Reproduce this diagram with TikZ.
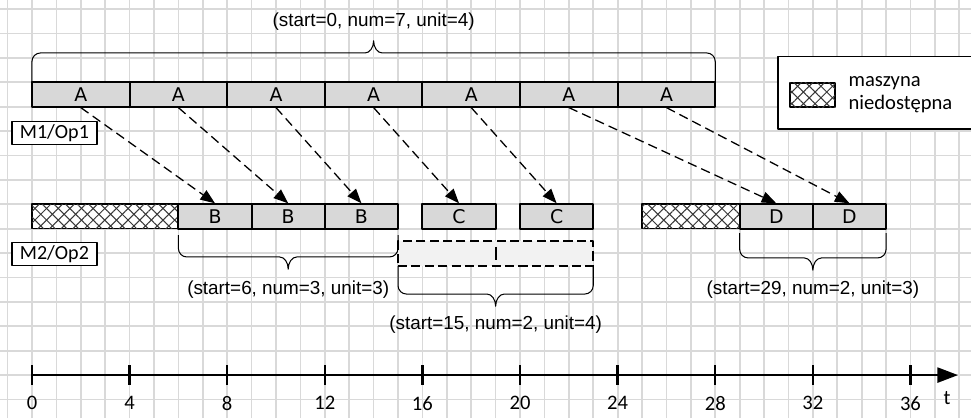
\documentclass[tikz,border=0pt]{standalone}
\usepackage{fontspec}
\setmainfont{Carlito}
\newfontfamily\parfont{Liberation Sans}
\newfontfamily\jobfont{DejaVu Sans}
\usetikzlibrary{arrows.meta,patterns.meta}
\definecolor{gridgray}{RGB}{217,217,217}
\definecolor{jobgray}{RGB}{216,216,216}
\definecolor{slotgray}{RGB}{242,242,242}
\definecolor{hatchgray}{RGB}{55,55,55}
% curly brace: #1,#2 x of the arms, #3 y where the arms end, #4 y of the line, #5 = 1 tip up, -1 tip down
\newcommand{\curly}[5]{%
  \draw[brace] (#1,#3) -- (#1,{#4-0.35*(#5)})
    arc[start angle=180, end angle={180-90*(#5)}, radius=.35]
    -- ({(#1+#2)/2-.35},#4)
    arc[start angle={180+90*(#5)}, end angle={180+180*(#5)}, x radius=.35, y radius=.5]
    arc[start angle=180, end angle={180+90*(#5)}, x radius=.35, y radius=.5]
    -- ({#2-.35},#4)
    arc[start angle={180-90*(#5)}, end angle={180-180*(#5)}, radius=.35]
    -- (#2,#3);
}
\begin{document}
\begin{tikzpicture}[scale=.5, line join=round,
    gridline/.style={gridgray, line width=1pt},
    job/.style={draw, line width=1.1pt, fill=jobgray, minimum height=.5cm, inner sep=0pt,
      font=\jobfont\fontsize{11}{13}\selectfont},
    hatched/.style={draw, line width=.9pt, fill=white, inner sep=0pt,
      postaction={pattern={Lines[angle=45,distance=4.8pt,line width=.6pt]}, pattern color=hatchgray},
      postaction={pattern={Lines[angle=-45,distance=4.8pt,line width=.6pt]}, pattern color=hatchgray}},
    slot/.style={draw, dash pattern=on 5.3pt off 2.5pt, line width=1.1pt, fill=slotgray, inner sep=0pt},
    dep/.style={dash pattern=on 5.5pt off 3pt, line width=.75pt, -{Triangle[length=8.5pt,width=6.5pt]}},
    tag/.style={draw, line width=.8pt, fill=white, minimum width=1.74cm, minimum height=.48cm, inner sep=0pt,
      font=\fontsize{11.7}{13}\selectfont},
    brace/.style={line width=.6pt},
    par/.style={inner sep=0pt, font=\parfont\fontsize{11}{13}\selectfont},
    axis/.style={line width=1.4pt},
    ticklabel/.style={inner sep=0pt, font=\fontsize{12}{14}\selectfont}]
\useasboundingbox (-1.31,-16.76) rectangle (38.48,.37);
\clip (-1.31,-16.76) rectangle (38.48,.37);
% background and grid
\fill[white] (-1.31,-16.76) rectangle (38.48,.37);
\draw[gridline] (-1.31,-16.76) grid (38.48,.37);

% machine 1: seven A jobs
\foreach \i in {1,...,7}
  \node[job, minimum width=2cm] (a\i) at ({4*\i-2},-3.5) {A};

% machine 2
\node[hatched, minimum width=3cm, minimum height=.5cm] (off1) at (3,-8.5) {};
\foreach \i/\x in {1/7.5,2/10.5,3/13.5}
  \node[job, minimum width=1.5cm] (b\i) at (\x,-8.5) {B};
\foreach \i/\x in {1/17.5,2/21.5}
  \node[job, minimum width=1.5cm] (c\i) at (\x,-8.5) {C};
\node[hatched, minimum width=2cm, minimum height=.5cm] (off2) at (27,-8.5) {};
\foreach \i/\x in {1/30.5,2/33.5}
  \node[job, minimum width=1.5cm] (d\i) at (\x,-8.5) {D};

% reserved slot for C
\node[slot, minimum width=4cm, minimum height=.51cm] (cslot) at (19,-10.02) {};
\draw[line width=1.1pt] (19,-9.75) -- (19,-10.29);

% dependencies
\foreach \s/\t in {a1/b1,a2/b2,a3/b3,a4/c1,a5/c2,a6/d1,a7/d2}
  \draw[dep] (\s.south) -- (\t.north);

% machine tags
\node[tag] (m1) at (.92,-5.08) {M1/Op1};
\node[tag] (m2) at (.92,-10.04) {M2/Op2};

% braces and their parameters
\curly{0}{28}{-3}{-1.8}{1}
\node[par] (pa) at (14,-.5) {(start=0, num=7, unit=4)};
\curly{6}{15}{-9.26}{-10.16}{-1}
\node[par] (pb) at (10.5,-11.48) {(start=6, num=3, unit=3)};
\curly{15}{23}{-10.53}{-11.68}{-1}
\node[par] (pc) at (19,-12.95) {(start=15, num=2, unit=4)};
\curly{29}{35}{-9.18}{-10.2}{-1}
\node[par] (pd) at (32,-11.48) {(start=29, num=2, unit=3)};

% legend
\draw[line width=.8pt, fill=white] (30.57,-1.95) rectangle (39,-4.92);
\node[hatched, minimum width=.92cm, minimum height=.5cm] (hleg) at (31.99,-3.52) {};
\node[anchor=west, align=left, inner sep=0pt, font=\fontsize{12}{13.5}\selectfont] (legtxt)
  at (33.45,-3.5) {maszyna\\niedostępna};

% time axis
\coordinate (t0) at (0,-15);
\coordinate (tend) at (37.95,-15);
\draw[axis, -{Triangle[length=12pt,width=8.7pt]}] (t0) -- (tend);
\foreach \t in {0,4,...,36} {
  \draw[axis] (\t,-14.59) -- (\t,-15.41);
  \node[ticklabel] (lab\t) at (\t,-16.15) {\t};
}
\node[ticklabel] (tlab) at (37.5,-15.94) {t};
\end{tikzpicture}
\end{document}
